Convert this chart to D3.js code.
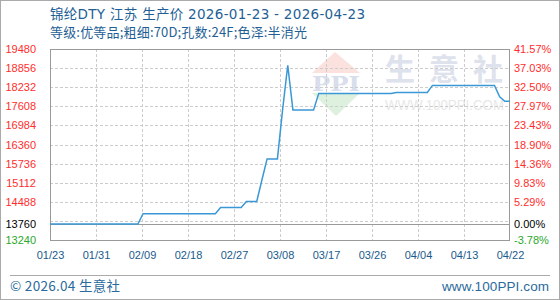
<!DOCTYPE html>
<html><head><meta charset="utf-8">
<script src="https://cdn.jsdelivr.net/npm/d3@7/dist/d3.min.js"></script>
<style>
html,body{margin:0;padding:0;background:#fff;}
svg{display:block;}
</style></head>
<body><svg id="c" width="560" height="300"></svg>
<script>
// ---- data ----
const dates = ["2026-01-23","2026-02-09","2026-02-10","2026-02-24","2026-02-25","2026-03-01","2026-03-02","2026-03-04","2026-03-05","2026-03-06","2026-03-08","2026-03-09","2026-03-10","2026-03-11","2026-03-15","2026-03-16","2026-03-30","2026-03-31","2026-04-06","2026-04-07","2026-04-19","2026-04-20","2026-04-21","2026-04-22"];
const prices = [13760,13760,14100,14100,14300,14300,14500,14500,15200,15890,15890,17490,18950,17490,17490,18030,18030,18060,18060,18290,18290,17920,17770,17770];
const xTickLabels = ["01/23","01/31","02/09","02/18","02/27","03/08","03/17","03/26","04/04","04/13","04/22"];
const yTickValues = [19480,18856,18232,17608,16984,16360,15736,15112,14488,13760,13240];
const yTickLabels = ["19480","18856","18232","17608","16984","16360","15736","15112","14488","13760","13240"];
const pctLabels = ["41.57%","37.03%","32.50%","27.97%","23.43%","18.90%","14.36%","9.83%","5.29%","0.00%","-3.78%"];
const gridValues = [18856,18232,17608,16984,16360,15736,15112,14488,13864];
const baseValue = 13760;
const title1 = "锦纶DTY 江苏 生产价 2026-01-23 - 2026-04-23";
const title2 = "等级:优等品;粗细:70D;孔数:24F;色泽:半消光";

const parse = d3.utcParse("%Y-%m-%d");
const data = dates.map((d,i)=>({date:parse(d), value:prices[i]}));

const L=50, R=510, T=49, B=240;
const svg = d3.select("#c");
const x = d3.scaleUtc().domain([parse("2026-01-23"), parse("2026-04-22")]).range([L,R]);
const xt = d3.scalePoint().domain(xTickLabels).range([L,R]);
const y = d3.scaleLinear().domain([13240,19480]).range([B,T]);

// outer border
svg.append("rect").attr("x",0.5).attr("y",0.5).attr("width",559).attr("height",299)
  .attr("fill","#fff").attr("stroke","#aaa");

// titles
const tf = "'Noto Sans CJK SC','Noto Sans',sans-serif";
const tf1 = "'DejaVu Sans','Noto Sans CJK SC',sans-serif";
svg.append("text").attr("x",50).attr("y",19).text(title1)
  .attr("textLength",315).attr("lengthAdjust","spacing")
  .attr("font-family",tf1).attr("font-size",13.5).attr("fill","#1f5f96");
svg.append("text").attr("x",50).attr("y",37).text(title2)
  .attr("textLength",257).attr("lengthAdjust","spacing")
  .attr("font-family",tf).attr("font-size",13).attr("fill","#1f5f96");

// watermark
const wm = svg.append("g");
wm.append("polygon").attr("points",[[312,73],[360,73],[335,52]].join(" ")).attr("fill","#fbe2de");
wm.append("polygon").attr("points",[[312,93],[360,93],[336,116]].join(" ")).attr("fill","#def1de");
wm.append("text").attr("x",312).attr("y",91).text("PPI").attr("textLength",48).attr("lengthAdjust","spacingAndGlyphs")
  .attr("font-family","'DejaVu Serif',serif").attr("font-weight","bold").attr("font-size",21).attr("fill","#d8deec");
wm.append("text").attr("x",385).attr("y",80).text("生意社").attr("letter-spacing",14)
  .attr("font-family",tf).attr("font-weight","bold").attr("font-size",30).attr("fill","#dde2ec");
wm.append("text").attr("x",385).attr("y",110).text("WWW.100PPI.COM").attr("textLength",119).attr("lengthAdjust","spacingAndGlyphs")
  .attr("font-family","'Liberation Sans',sans-serif").attr("font-size",14).attr("fill","#e8e8e8");

// grid
const g = svg.append("g");
g.selectAll("line.h").data(gridValues).join("line").attr("class","h")
  .attr("x1",L).attr("x2",R).attr("y1",d=>Math.round(y(d))+0.5).attr("y2",d=>Math.round(y(d))+0.5)
  .attr("stroke","#cccccc").attr("stroke-dasharray","3,2");
g.selectAll("line.v").data(xTickLabels.slice(1,-1)).join("line").attr("class","v")
  .attr("y1",T).attr("y2",B).attr("x1",d=>Math.round(xt(d))+0.5).attr("x2",d=>Math.round(xt(d))+0.5)
  .attr("stroke","#cccccc").attr("stroke-dasharray","3,2");
g.append("line").attr("x1",L).attr("x2",R).attr("y1",Math.round(y(baseValue))+0.5).attr("y2",Math.round(y(baseValue))+0.5)
  .attr("stroke","#999");

// frame
svg.append("rect").attr("x",L+0.5).attr("y",T+0.5).attr("width",R-L-1).attr("height",B-T)
  .attr("fill","none").attr("stroke","#999");

// line
svg.append("path").datum(data).attr("fill","none").attr("stroke","#3a98d6").attr("stroke-width",1.5)
  .attr("d",d3.line().x(d=>x(d.date)).y(d=>y(d.value)));

// axes labels
const af = "'Liberation Sans',Arial,sans-serif";
const colorFor = v => v>baseValue ? "#ff2d2d" : (v<baseValue ? "#2aa82a" : "#000");
const yl = d3.axisLeft(y).tickValues(yTickValues).tickSize(0).tickPadding(0).tickFormat((d,i)=>yTickLabels[i]);
const ga = svg.append("g").attr("transform","translate(36,0)").call(yl);
ga.select(".domain").remove();
ga.selectAll("text").attr("font-family",af).attr("font-size",11).attr("fill",d=>colorFor(d));
const yr = d3.axisRight(y).tickValues(yTickValues).tickSize(0).tickPadding(0).tickFormat((d,i)=>pctLabels[i]);
const gr = svg.append("g").attr("transform","translate(514,0)").call(yr);
gr.select(".domain").remove();
gr.selectAll("text").attr("font-family",af).attr("font-size",11).attr("fill",d=>colorFor(d));
const xa = d3.axisBottom(xt).tickSize(0).tickPadding(0);
const gx = svg.append("g").attr("transform","translate(0,251)").call(xa);
gx.select(".domain").remove();
gx.selectAll("text").attr("font-family",af).attr("font-size",11).attr("fill","#1a5a8c");

// footer
svg.append("line").attr("x1",10).attr("x2",550).attr("y1",275.5).attr("y2",275.5).attr("stroke","#aaa");
svg.append("text").attr("x",10).attr("y",291).text("© 2026.04 生意社")
  .attr("textLength",110).attr("lengthAdjust","spacing")
  .attr("font-family",tf).attr("font-size",13.5).attr("fill","#2a6a9c");
svg.append("text").attr("x",549).attr("y",291).attr("text-anchor","end").text("www.100PPI.com")
  .attr("textLength",107).attr("lengthAdjust","spacing")
  .attr("font-family",af).attr("font-size",13.5).attr("fill","#2a6a9c");
</script></body></html>
